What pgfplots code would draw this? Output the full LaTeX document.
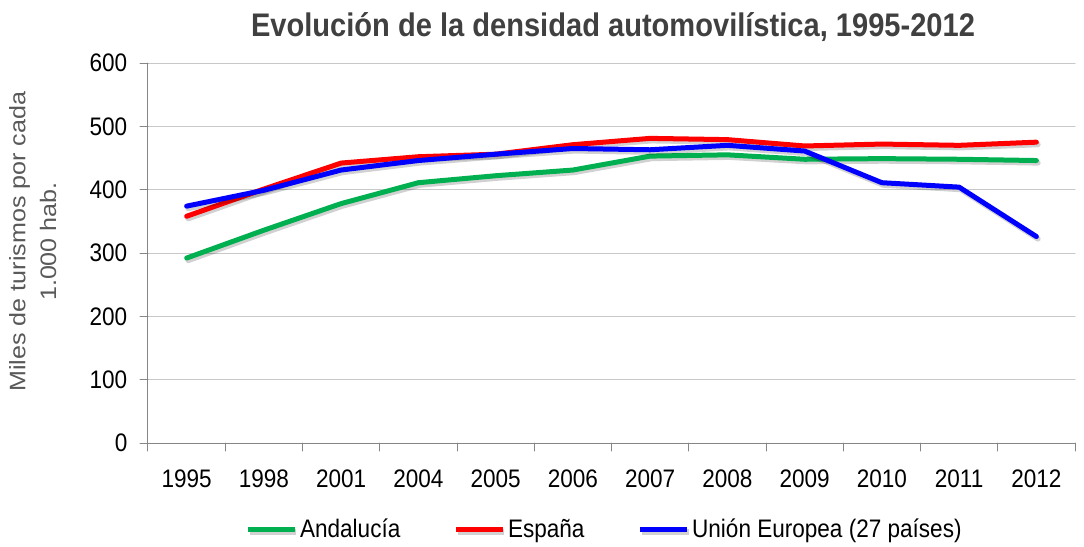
\documentclass[border=0pt]{standalone}
\usepackage{pgfplots}
\pgfplotsset{compat=1.18}
\usepackage{fontspec}
\setmainfont{Liberation Sans}[FakeStretch=0.89]
\newfontfamily\ylabfont{Liberation Sans}[FakeStretch=1.12]
\definecolor{andal}{HTML}{00B050}
\definecolor{espana}{HTML}{FF0000}
\definecolor{ue}{HTML}{0000FF}
\definecolor{gridgray}{HTML}{C8C8C8}
\definecolor{axisgray}{HTML}{868686}
\definecolor{titlegray}{HTML}{404040}
\definecolor{labelgray}{HTML}{595959}
\tikzset{shadowed/.style={preaction={draw, color=black, opacity=0.18, line width=4pt, transform canvas={xshift=1.2pt, yshift=-1.8pt}}}}
\begin{document}
\begin{tikzpicture}
\begin{axis}[
  scale only axis, width=695.25pt, height=285pt,
  xmin=-0.5, xmax=11.5, ymin=0, ymax=600,
  xtick={0,...,11},
  xticklabels={1995,1998,2001,2004,2005,2006,2007,2008,2009,2010,2011,2012},
  minor xtick={-0.5,0.5,...,11.5},
  major x tick style={draw=none},
  ytick={0,100,...,600},
  ymajorgrids, grid style={color=gridgray, line width=0.75pt},
  axis x line*=bottom, axis y line*=left,
  tick align=outside, major tick length=6pt, minor tick length=6pt,
  tick style={color=axisgray, line width=0.75pt},
  axis line style={color=axisgray, line width=0.75pt},
  /pgf/number format/assume math mode=true,
  tick label style={font=\fontsize{19}{22}\selectfont, color=black},
  xticklabel style={anchor=center, yshift=-21pt},
  yticklabel style={anchor=east, xshift=-6pt},
  title={Evolución de la densidad automovilística, 1995-2012},
  title style={at={(0.5016,1)}, anchor=center, yshift=21pt, font=\fontsize{24.5}{28}\selectfont\bfseries, color=titlegray},
  ylabel={Miles de turismos por cada\\1.000 hab.},
  ylabel style={at={(axis description cs:-0.1244,0.53)}, anchor=center, align=center, font=\ylabfont\fontsize{16.8}{23}\selectfont, color=labelgray},
  legend columns=3,
  legend style={at={(0.493,-0.228)}, anchor=center, draw=none, fill=none,
    font=\fontsize{19}{22}\selectfont,
    /tikz/every even column/.append style={column sep=38pt},
    inner sep=0pt},
  legend image code/.code={\draw[line width=3.75pt] (0pt,0pt) -- (35pt,0pt);},
  line join=round, line cap=round,
]
\addplot[color=andal, line width=3.75pt, shadowed] coordinates {
(0,292) (1,336) (2,378) (3,411) (4,422) (5,431) (6,453) (7,455) (8,448) (9,449) (10,448) (11,446)};
\addlegendentry{Andalucía}
\addplot[color=espana, line width=3.75pt, shadowed] coordinates {
(0,358) (1,401) (2,442) (3,452) (4,456) (5,471) (6,481) (7,479) (8,469) (9,472) (10,470) (11,475)};
\addlegendentry{España}
\addplot[color=ue, line width=3.75pt, shadowed] coordinates {
(0,374) (1,399) (2,431) (3,446) (4,456) (5,465) (6,463) (7,470) (8,461) (9,411) (10,404) (11,326)};
\addlegendentry{Unión Europea (27 países)}
\end{axis}
\pgfresetboundingbox
\useasboundingbox (-111pt,-77.25pt) rectangle (702pt,332.25pt);
\end{tikzpicture}
\end{document}
